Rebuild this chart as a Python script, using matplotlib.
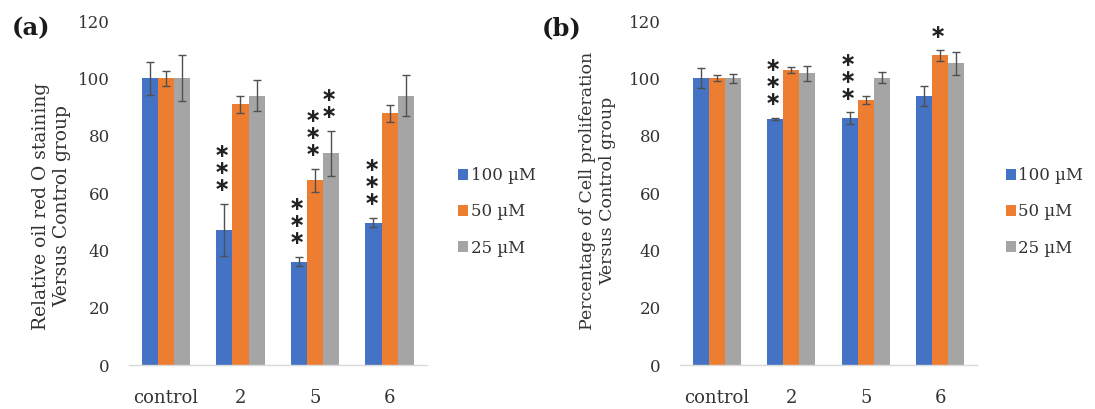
import matplotlib
matplotlib.use("Agg")
import matplotlib.pyplot as plt
import numpy as np

# ---------------- data ----------------
categories = ["control", "2", "5", "6"]
series = ["100 \u00b5M", "50 \u00b5M", "25 \u00b5M"]
colors = ["#4472C4", "#ED7D31", "#A5A5A5"]

# Panel (a): Relative oil red O staining
a_100 = [100, 47.1, 36.1, 49.7]
a_50 = [100, 91.0, 64.5, 87.8]
a_25 = [100, 94.0, 73.8, 94.0]
a_100_err = [5.8, 9.2, 1.7, 1.7]
a_50_err = [2.5, 3.0, 4.0, 2.9]
a_25_err = [8.0, 5.4, 8.0, 7.0]
a_100_sig = ["", "***", "***", "***"]
a_50_sig = ["", "", "***", ""]
a_25_sig = ["", "", "**", ""]

# Panel (b): Percentage of cell proliferation
b_100 = [100, 85.8, 86.1, 93.8]
b_50 = [100, 102.8, 92.5, 108.0]
b_25 = [100, 101.7, 100.2, 105.2]
b_100_err = [3.5, 0.4, 2.0, 3.6]
b_50_err = [1.0, 1.0, 1.3, 1.8]
b_25_err = [1.5, 2.5, 2.0, 4.0]
b_100_sig = ["", "***", "***", ""]
b_50_sig = ["", "", "", "*"]
b_25_sig = ["", "", "", ""]

yticks = [0, 20, 40, 60, 80, 100, 120]

ylabel_a = "Relative oil red O staining\nVersus Control group"
ylabel_b = "Percentage of Cell proliferation\nVersus Control group"

# ---------------- style ----------------
SERIF = "DejaVu Serif"
TXT = "#333333"

fig = plt.figure(figsize=(10.95, 4.09), dpi=100)

ax_a = fig.add_axes([128.5 / 1095, 44 / 409, 298.5 / 1095, 344 / 409])
ax_b = fig.add_axes([679.5 / 1095, 44 / 409, 298 / 1095, 344 / 409])

width = 0.217
x = np.arange(len(categories))


def draw(ax, vals, errs, sigs, ylabel, label_x, label_y, leg_x, ylsize):
    for i, (v, e, s) in enumerate(zip(vals, errs, sigs)):
        pos = x + (i - 1) * width
        ax.bar(pos, v, width, color=colors[i], label=series[i], zorder=2)
        ax.errorbar(pos, v, yerr=e, fmt="none", ecolor="#505050",
                    elinewidth=1.0, capsize=3.2, capthick=1.0, zorder=3)
        for p, val, err, st in zip(pos, v, e, s):
            for k in range(len(st)):
                ax.annotate("\u2217", xy=(p, val + err),
                            xytext=(-1.5, (18 + 17 * k) * 0.72),
                            textcoords="offset points", ha="center",
                            va="center", fontsize=14, color="#222222",
                            family="DejaVu Sans", fontweight="bold",
                            annotation_clip=False)
    ax.set_xlim(-0.5, len(categories) - 0.5)
    ax.set_ylim(0, 120)
    ax.set_yticks(yticks)
    ax.set_xticks(x)
    ax.set_xticklabels(categories)
    for sp in ["top", "right", "left"]:
        ax.spines[sp].set_visible(False)
    ax.spines["bottom"].set_color("#D9D9D9")
    ax.spines["bottom"].set_linewidth(1.0)
    ax.tick_params(axis="both", length=0, colors=TXT)
    ax.tick_params(axis="y", pad=13.5, labelsize=12)
    ax.tick_params(axis="x", pad=17, labelsize=13)
    for lab in ax.get_xticklabels() + ax.get_yticklabels():
        lab.set_family(SERIF)
    ax.set_ylabel(ylabel, family=SERIF, fontsize=ylsize, color=TXT,
                  linespacing=1.2)
    ax.yaxis.set_label_coords(label_x, label_y)
    leg = ax.legend(loc="center left", bbox_to_anchor=(leg_x, 0.445),
                    frameon=False, borderpad=0, borderaxespad=0,
                    handlelength=0.62, handleheight=0.62,
                    handletextpad=0.15, labelspacing=1.15,
                    prop={"family": SERIF, "size": 12})
    for t in leg.get_texts():
        t.set_color(TXT)


draw(ax_a, [a_100, a_50, a_25], [a_100_err, a_50_err, a_25_err],
     [a_100_sig, a_50_sig, a_25_sig], ylabel_a, -0.193, 0.461, 1.104, 13.5)
draw(ax_b, [b_100, b_50, b_25], [b_100_err, b_50_err, b_25_err],
     [b_100_sig, b_50_sig, b_25_sig], ylabel_b, -0.213, 0.507, 1.094, 12.5)

fig.text(12 / 1095, 1 - 28 / 409, "(a)", family=SERIF, fontweight="bold",
         fontsize=17.5, color="#1a1a1a", ha="left", va="center")
fig.text(542 / 1095, 1 - 28 / 409, "(b)", family=SERIF, fontweight="bold",
         fontsize=17.5, color="#1a1a1a", ha="left", va="center")

fig.savefig("out.png", dpi=100, facecolor="white")
